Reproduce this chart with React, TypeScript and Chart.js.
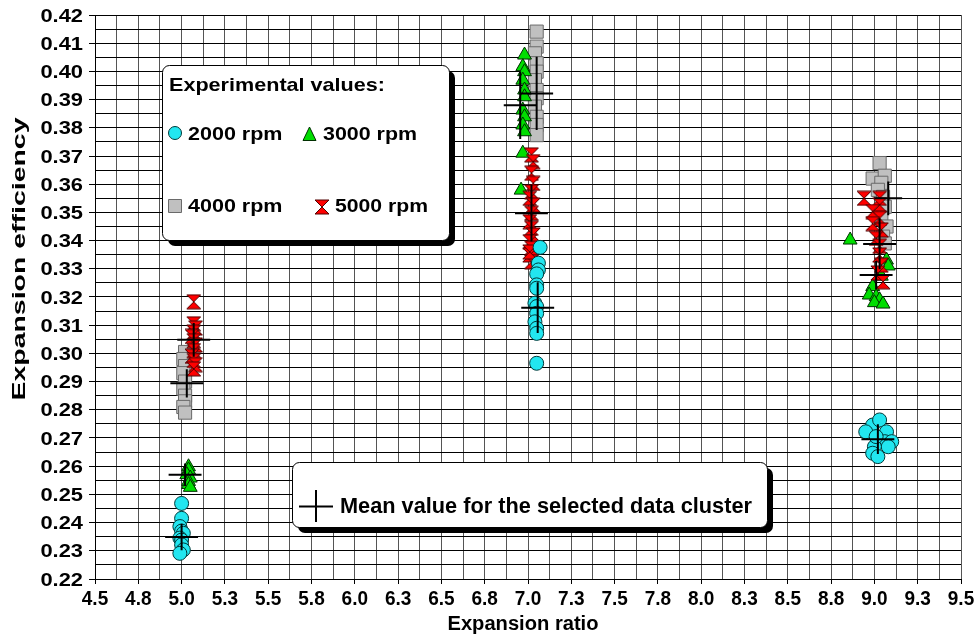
import React, { useEffect, useRef } from 'react';
import { Chart, registerables } from 'chart.js';

Chart.register(...registerables);

const FONT = '"Liberation Sans", Arial, Helvetica, sans-serif';

// ---- axis ticks ----
const xTickValues = [4.5, 4.75, 5.0, 5.25, 5.5, 5.75, 6.0, 6.25, 6.5, 6.75, 7.0, 7.25, 7.5, 7.75, 8.0, 8.25, 8.5, 8.75, 9.0, 9.25, 9.5];
const xTickLabels = ['4.5', '4.8', '5.0', '5.3', '5.5', '5.8', '6.0', '6.3', '6.5', '6.8', '7.0', '7.3', '7.5', '7.8', '8.0', '8.3', '8.5', '8.8', '9.0', '9.3', '9.5'];
const yTickValues = [0.22, 0.23, 0.24, 0.25, 0.26, 0.27, 0.28, 0.29, 0.30, 0.31, 0.32, 0.33, 0.34, 0.35, 0.36, 0.37, 0.38, 0.39, 0.40, 0.41, 0.42];
const yTickLabels = ['0.22', '0.23', '0.24', '0.25', '0.26', '0.27', '0.28', '0.29', '0.30', '0.31', '0.32', '0.33', '0.34', '0.35', '0.36', '0.37', '0.38', '0.39', '0.40', '0.41', '0.42'];

const xTitle = 'Expansion ratio';
const yTitle = 'Expansion efficiency';
const legendTitle = 'Experimental values:';
const seriesNames = ['2000 rpm', '3000 rpm', '4000 rpm', '5000 rpm'];
const meanLabel = 'Mean value for the selected data cluster';

// ---- data ----
const rpm2000X = [5.00, 5.00, 4.99, 5.00, 5.01, 4.99, 5.00, 5.00, 5.01, 4.99,
  7.07, 7.06, 7.06, 7.05, 7.05, 7.05, 7.04, 7.05, 7.05, 7.04, 7.05, 7.05, 7.05,
  8.99, 9.03, 8.95, 9.07, 9.06, 9.10, 9.08, 9.00, 8.99, 9.02, 9.01];
const rpm2000Y = [0.2468, 0.2415, 0.2386, 0.2370, 0.2362, 0.2345, 0.2338, 0.2321, 0.2303, 0.2291,
  0.3376, 0.3320, 0.3296, 0.3282, 0.3243, 0.3231, 0.3178, 0.3166, 0.3142, 0.3112, 0.3089, 0.3071, 0.2965,
  0.2746, 0.2764, 0.2722, 0.2722, 0.2687, 0.2687, 0.2669, 0.2669, 0.2646, 0.2634, 0.2705];

const rpm3000X = [5.04, 5.04, 5.03, 5.05, 5.04, 5.04, 5.05,
  6.98, 6.97, 6.98, 6.97, 6.98, 6.98, 6.97, 6.98, 6.97, 6.98, 6.97, 6.96,
  8.86, 9.07, 9.08, 9.04, 8.99, 8.97, 9.01, 9.03, 9.00, 9.05];
const rpm3000Y = [0.2598, 0.2587, 0.2570, 0.2558, 0.2546, 0.2535, 0.2525,
  0.4058, 0.4017, 0.3999, 0.3969, 0.3934, 0.3910, 0.3863, 0.3839, 0.3810, 0.3786, 0.3710, 0.3579,
  0.3402, 0.3331, 0.3310, 0.3274, 0.3237, 0.3207, 0.3201, 0.3190, 0.3180, 0.3175];

const rpm4000X = [5.02, 5.01, 5.02, 5.01, 5.02, 5.01, 5.02, 5.02, 5.01, 5.02,
  7.05, 7.05, 7.04, 7.05, 7.05, 7.04, 7.05, 7.05, 7.04, 7.05, 7.05, 7.05,
  9.03, 8.99, 9.06, 9.04, 9.02, 9.05, 9.06, 9.04, 9.07, 9.05, 9.06];
const rpm4000Y = [0.3005, 0.2980, 0.2955, 0.2930, 0.2900, 0.2875, 0.2850, 0.2830, 0.2810, 0.2790,
  0.4141, 0.4088, 0.4064, 0.4029, 0.3999, 0.3969, 0.3934, 0.3905, 0.3875, 0.3839, 0.3810, 0.3774,
  0.3675, 0.3620, 0.3630, 0.3605, 0.3580, 0.3555, 0.3520, 0.3480, 0.3450, 0.3414, 0.3390];

const rpm5000X = [5.07, 5.07, 5.08, 5.07, 5.06, 5.07, 5.08, 5.07, 5.06, 5.07, 5.08, 5.07,
  7.02, 7.03, 7.02, 7.03, 7.02, 7.01, 7.03, 7.02, 7.01, 7.02, 7.03, 7.01, 7.02, 7.01, 7.02, 7.01,
  8.94, 9.03, 9.03, 8.99, 9.03, 8.99, 9.04, 9.01, 9.03, 9.03, 9.04, 9.02, 9.05];
const rpm5000Y = [0.3183, 0.3105, 0.3090, 0.3075, 0.3060, 0.3045, 0.3030, 0.3010, 0.2990, 0.2975, 0.2960, 0.2945,
  0.3704, 0.3680, 0.3639, 0.3603, 0.3573, 0.3550, 0.3526, 0.3497, 0.3467, 0.3444, 0.3420, 0.3396, 0.3373, 0.3349, 0.3325, 0.3360,
  0.3550, 0.3550, 0.3527, 0.3503, 0.3479, 0.3460, 0.3438, 0.3408, 0.3380, 0.3349, 0.3313, 0.3285, 0.3254];

// mean value of each cluster with its spread (cross arms)
const meanX = [5.00, 5.02, 5.03, 5.07, 7.056, 6.955, 7.05, 7.02, 9.02, 9.01, 9.08, 9.03];
const meanY = [0.2349, 0.2570, 0.2894, 0.3048, 0.3162, 0.3880, 0.3922, 0.3497, 0.2696, 0.3278, 0.3550, 0.3388];
const meanErrX = [0.095, 0.095, 0.095, 0.095, 0.095, 0.095, 0.095, 0.095, 0.095, 0.095, 0.08, 0.095];
const meanErrY = [0.0047, 0.0040, 0.0050, 0.0060, 0.0090, 0.0120, 0.0130, 0.0100, 0.0053, 0.0050, 0.0060, 0.0090];

const toPoints = (xs: number[], ys: number[]) => xs.map((x, i) => ({ x, y: ys[i] }));

const withMinor = (vals: number[]) => {
  const out: number[] = [];
  vals.forEach((v, i) => {
    out.push(v);
    if (i < vals.length - 1) out.push((v + vals[i + 1]) / 2);
  });
  return out;
};

const CYAN = '#22e6f0';
const GREEN = '#00dd00';
const GRAY = '#c0c0c0';
const RED = '#ff0000';

function makeHourglass(size: number) {
  const c = document.createElement('canvas');
  c.width = size + 2;
  c.height = size + 2;
  const g = c.getContext('2d')!;
  drawHourglass(g, (size + 2) / 2, (size + 2) / 2, size);
  return c;
}

function drawHourglass(g: CanvasRenderingContext2D, cx: number, cy: number, size: number) {
  const h = size / 2;
  g.save();
  g.beginPath();
  g.moveTo(cx - h, cy - h);
  g.lineTo(cx + h, cy - h);
  g.lineTo(cx - h, cy + h);
  g.lineTo(cx + h, cy + h);
  g.closePath();
  g.fillStyle = RED;
  g.fill();
  g.lineWidth = 1;
  g.strokeStyle = '#500000';
  g.stroke();
  g.restore();
}

function drawText(g: CanvasRenderingContext2D, text: string, x: number, y: number, size: number, sx: number, align: 'left' | 'right' | 'center') {
  g.save();
  g.font = `bold ${size}px ${FONT}`;
  g.fillStyle = '#000';
  g.textBaseline = 'alphabetic';
  g.textAlign = 'left';
  const w = g.measureText(text).width;
  g.translate(x, y);
  g.scale(sx, 1);
  const ox = align === 'left' ? 0 : align === 'right' ? -w : -w / 2;
  g.fillText(text, ox, 0);
  g.restore();
}

function fitScale(g: CanvasRenderingContext2D, text: string, size: number, width: number) {
  g.save();
  g.font = `bold ${size}px ${FONT}`;
  const w = g.measureText(text).width;
  g.restore();
  return width / w;
}

function roundRect(g: CanvasRenderingContext2D, x: number, y: number, w: number, h: number, r: number) {
  g.beginPath();
  g.moveTo(x + r, y);
  g.lineTo(x + w - r, y);
  g.arcTo(x + w, y, x + w, y + r, r);
  g.lineTo(x + w, y + h - r);
  g.arcTo(x + w, y + h, x + w - r, y + h, r);
  g.lineTo(x + r, y + h);
  g.arcTo(x, y + h, x, y + h - r, r);
  g.lineTo(x, y + r);
  g.arcTo(x, y, x + r, y, r);
  g.closePath();
}

function drawBox(g: CanvasRenderingContext2D, x: number, y: number, w: number, h: number) {
  g.save();
  roundRect(g, x + 6, y + 6, w, h, 7);
  g.fillStyle = '#000';
  g.fill();
  roundRect(g, x + 0.5, y + 0.5, w, h, 7);
  g.fillStyle = '#fff';
  g.fill();
  g.lineWidth = 1;
  g.strokeStyle = '#000';
  g.stroke();
  g.restore();
}

const crossPlugin = {
  id: 'meanCross',
  afterDatasetsDraw(chart: any) {
    const g: CanvasRenderingContext2D = chart.ctx;
    const xs = chart.scales.x;
    const ys = chart.scales.y;
    g.save();
    g.strokeStyle = '#000';
    g.lineWidth = 2;
    meanX.forEach((mx, i) => {
      const my = meanY[i];
      const px = xs.getPixelForValue(mx);
      const py = ys.getPixelForValue(my);
      g.beginPath();
      g.moveTo(xs.getPixelForValue(mx - meanErrX[i]), py);
      g.lineTo(xs.getPixelForValue(mx + meanErrX[i]), py);
      g.moveTo(px, ys.getPixelForValue(my - meanErrY[i]));
      g.lineTo(px, ys.getPixelForValue(my + meanErrY[i]));
      g.stroke();
    });
    g.restore();
  },
};

const textPlugin = {
  id: 'textAndBoxes',
  afterDraw(chart: any) {
    const g: CanvasRenderingContext2D = chart.ctx;
    const xs = chart.scales.x;
    const ys = chart.scales.y;
    // y tick labels
    yTickValues.forEach((v, i) => {
      drawText(g, yTickLabels[i], 83, ys.getPixelForValue(v) + 6.5, 17.5, 1.25, 'right');
    });
    // x tick labels
    xTickValues.forEach((v, i) => {
      drawText(g, xTickLabels[i], xs.getPixelForValue(v), 605, 20, 0.95, 'center');
    });
    // axis titles
    const cx = (chart.chartArea.left + chart.chartArea.right) / 2;
    drawText(g, xTitle, cx - 5, 630, 20, fitScale(g, xTitle, 20, 151), 'center');
    g.save();
    g.translate(25, 259);
    g.rotate(-Math.PI / 2);
    drawText(g, yTitle, 0, 0, 19, fitScale(g, yTitle, 19, 283), 'center');
    g.restore();

    // legend box
    drawBox(g, 162, 65, 287, 175);
    const fs = 18.5;
    drawText(g, legendTitle, 169, 91, fs, fitScale(g, legendTitle, fs, 216), 'left');
    drawText(g, seriesNames[0], 188, 140, fs, fitScale(g, seriesNames[0], fs, 94.5), 'left');
    drawText(g, seriesNames[1], 323, 140, fs, fitScale(g, seriesNames[1], fs, 94), 'left');
    drawText(g, seriesNames[2], 188, 212, fs, fitScale(g, seriesNames[2], fs, 94.5), 'left');
    drawText(g, seriesNames[3], 335, 212, fs, fitScale(g, seriesNames[3], fs, 93), 'left');
    g.save();
    g.lineWidth = 1;
    // circle
    g.beginPath();
    g.arc(175, 133, 6.5, 0, Math.PI * 2);
    g.fillStyle = CYAN;
    g.fill();
    g.strokeStyle = '#003a3a';
    g.stroke();
    // triangle
    g.beginPath();
    g.moveTo(309.5, 127);
    g.lineTo(316, 140.5);
    g.lineTo(303, 140.5);
    g.closePath();
    g.fillStyle = GREEN;
    g.fill();
    g.strokeStyle = '#003000';
    g.stroke();
    // square
    g.beginPath();
    g.rect(168.5, 199.5, 13, 13);
    g.fillStyle = GRAY;
    g.fill();
    g.strokeStyle = '#6a6a6a';
    g.stroke();
    g.restore();
    drawHourglass(g, 322, 207, 14);

    // mean box
    drawBox(g, 292, 462, 475, 65);
    g.save();
    g.strokeStyle = '#000';
    g.lineWidth = 2;
    g.beginPath();
    g.moveTo(299, 506.5);
    g.lineTo(333, 506.5);
    g.moveTo(316, 490);
    g.lineTo(316, 522);
    g.stroke();
    g.restore();
    drawText(g, meanLabel, 340, 513, 21.5, fitScale(g, meanLabel, 21.5, 412), 'left');
  },
};

export default function App() {
  const ref = useRef<HTMLCanvasElement | null>(null);

  useEffect(() => {
    if (!ref.current) return;
    const hourglass = makeHourglass(14);
    const xGrid = withMinor(xTickValues);
    const yGrid = withMinor(yTickValues);

    const chart = new Chart(ref.current, {
      type: 'scatter',
      data: {
        datasets: [
          {
            label: seriesNames[0],
            data: toPoints(rpm2000X, rpm2000Y),
            pointStyle: 'circle',
            pointRadius: 7,
            backgroundColor: CYAN,
            borderColor: '#003a3a',
            borderWidth: 1,
            order: 1,
          },
          {
            label: seriesNames[1],
            data: toPoints(rpm3000X, rpm3000Y),
            pointStyle: 'triangle',
            pointRadius: 8,
            backgroundColor: GREEN,
            borderColor: '#003000',
            borderWidth: 1,
            order: 3,
          },
          {
            label: seriesNames[2],
            data: toPoints(rpm4000X, rpm4000Y),
            pointStyle: 'rect',
            pointRadius: 9.3,
            backgroundColor: GRAY,
            borderColor: '#6a6a6a',
            borderWidth: 1,
            order: 4,
          },
          {
            label: seriesNames[3],
            data: toPoints(rpm5000X, rpm5000Y),
            pointStyle: hourglass as any,
            pointRadius: 7,
            backgroundColor: RED,
            borderColor: '#500000',
            borderWidth: 1,
            order: 2,
          },
          {
            label: 'Mean',
            data: toPoints(meanX, meanY),
            pointRadius: 0,
            order: 0,
          },
        ],
      },
      options: {
        animation: false,
        responsive: false,
        maintainAspectRatio: false,
        events: [],
        layout: { padding: { left: 0, right: 18, top: 15, bottom: 0 } },
        plugins: { legend: { display: false }, tooltip: { enabled: false } },
        scales: {
          x: {
            type: 'linear',
            min: 4.5,
            max: 9.5,
            afterBuildTicks: (s: any) => {
              s.ticks = xGrid.map((value) => ({ value }));
            },
            afterFit: (s: any) => {
              s.height = 60;
            },
            ticks: { display: false },
            grid: {
              color: '#555555',
              lineWidth: 1,
              drawTicks: true,
              tickLength: 5,
              tickColor: (c: any) => (c.index % 2 === 0 ? '#000' : 'rgba(0,0,0,0)'),
            },
            border: { color: '#000', width: 1 },
          },
          y: {
            type: 'linear',
            min: 0.22,
            max: 0.42,
            afterBuildTicks: (s: any) => {
              s.ticks = yGrid.map((value) => ({ value }));
            },
            afterFit: (s: any) => {
              s.width = 95;
            },
            ticks: { display: false },
            grid: {
              color: '#000',
              lineWidth: 1,
              drawTicks: true,
              tickLength: 6,
              tickColor: (c: any) => (c.index % 2 === 0 ? '#000' : 'rgba(0,0,0,0)'),
            },
            border: { color: '#000', width: 1 },
          },
        },
      },
      plugins: [crossPlugin, textPlugin],
    } as any);

    return () => chart.destroy();
  }, []);

  return (
    <div style={{ position: 'fixed', left: 0, top: 0, width: 979, height: 639, background: '#fff' }}>
      <canvas ref={ref} width={979} height={639} style={{ display: 'block' }} />
    </div>
  );
}
